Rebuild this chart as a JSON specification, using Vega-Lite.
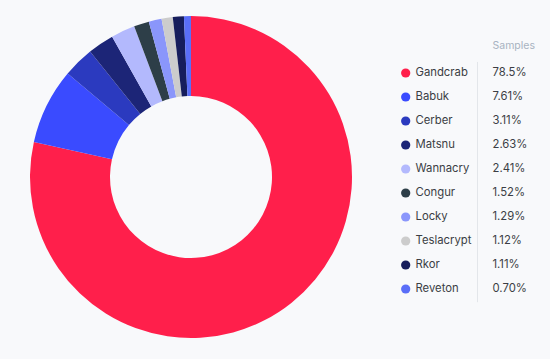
{
  "$schema": "https://vega.github.io/schema/vega-lite/v6.json",
  "background": "#f8f9fb",
  "padding": {"left": 0, "top": 0, "right": 0, "bottom": 5},
  "spacing": 0,
  "config": {"view": {"stroke": null}, "font": "Inter"},
  "datasets": {
    "rows": [
      {"name": "Gandcrab", "pct": 78.5, "label": "78.5%", "rank": 1, "color": "#ff1f4b"},
      {"name": "Babuk", "pct": 7.61, "label": "7.61%", "rank": 2, "color": "#3a4bff"},
      {"name": "Cerber", "pct": 3.11, "label": "3.11%", "rank": 3, "color": "#2b3abf"},
      {"name": "Matsnu", "pct": 2.63, "label": "2.63%", "rank": 4, "color": "#1c2577"},
      {"name": "Wannacry", "pct": 2.41, "label": "2.41%", "rank": 5, "color": "#b3b9fd"},
      {"name": "Congur", "pct": 1.52, "label": "1.52%", "rank": 6, "color": "#2d3e48"},
      {"name": "Locky", "pct": 1.29, "label": "1.29%", "rank": 7, "color": "#8a96fb"},
      {"name": "Teslacrypt", "pct": 1.12, "label": "1.12%", "rank": 8, "color": "#cccccc"},
      {"name": "Rkor", "pct": 1.11, "label": "1.11%", "rank": 9, "color": "#161d5c"},
      {"name": "Reveton", "pct": 0.70, "label": "0.70%", "rank": 10, "color": "#5a6ef8"}
    ]
  },
  "hconcat": [
    {
      "width": 382,
      "height": 354,
      "data": {"name": "rows"},
      "mark": {"type": "arc", "outerRadius": 161, "innerRadius": 81},
      "encoding": {
        "theta": {"field": "pct", "type": "quantitative", "stack": true},
        "order": {"field": "rank", "type": "quantitative"},
        "color": {"field": "color", "type": "nominal", "scale": null, "legend": null}
      }
    },
    {
      "width": 168,
      "height": 354,
      "data": {"name": "rows"},
      "layer": [
        {
          "mark": {"type": "point", "filled": true, "size": 85, "opacity": 1},
          "encoding": {
            "x": {"datum": 23.7, "type": "quantitative", "scale": {"domain": [0, 168], "nice": false, "zero": false}, "axis": null},
            "y": {"field": "rank", "type": "quantitative", "scale": {"domain": [-2.0417, 12.7083], "reverse": true, "nice": false, "zero": false}, "axis": null},
            "color": {"field": "color", "type": "nominal", "scale": null, "legend": null}
          }
        },
        {
          "mark": {"type": "text", "align": "left", "baseline": "middle", "fontSize": 11.3, "color": "#3b3e44"},
          "encoding": {
            "x": {"datum": 33.5, "type": "quantitative"},
            "y": {"field": "rank", "type": "quantitative"},
            "text": {"field": "name"}
          }
        },
        {
          "mark": {"type": "text", "align": "left", "baseline": "middle", "fontSize": 11.3, "color": "#3b3e44"},
          "encoding": {
            "x": {"datum": 110.5, "type": "quantitative"},
            "y": {"field": "rank", "type": "quantitative"},
            "text": {"field": "label"}
          }
        },
        {
          "data": {"values": [{"h": "Samples", "r": -0.125, "c": 110.5}]},
          "mark": {"type": "text", "align": "left", "baseline": "middle", "fontSize": 10.5, "color": "#a8b3c1"},
          "encoding": {
            "x": {"field": "c", "type": "quantitative"},
            "y": {"field": "r", "type": "quantitative"},
            "text": {"field": "h"}
          }
        },
        {
          "data": {"values": [{"c": 95.5, "r1": 0.54, "r2": 10.55}]},
          "mark": {"type": "rule", "color": "#e3e6ea", "strokeWidth": 1},
          "encoding": {
            "x": {"field": "c", "type": "quantitative"},
            "y": {"field": "r1", "type": "quantitative"},
            "y2": {"field": "r2"}
          }
        }
      ]
    }
  ]
}
